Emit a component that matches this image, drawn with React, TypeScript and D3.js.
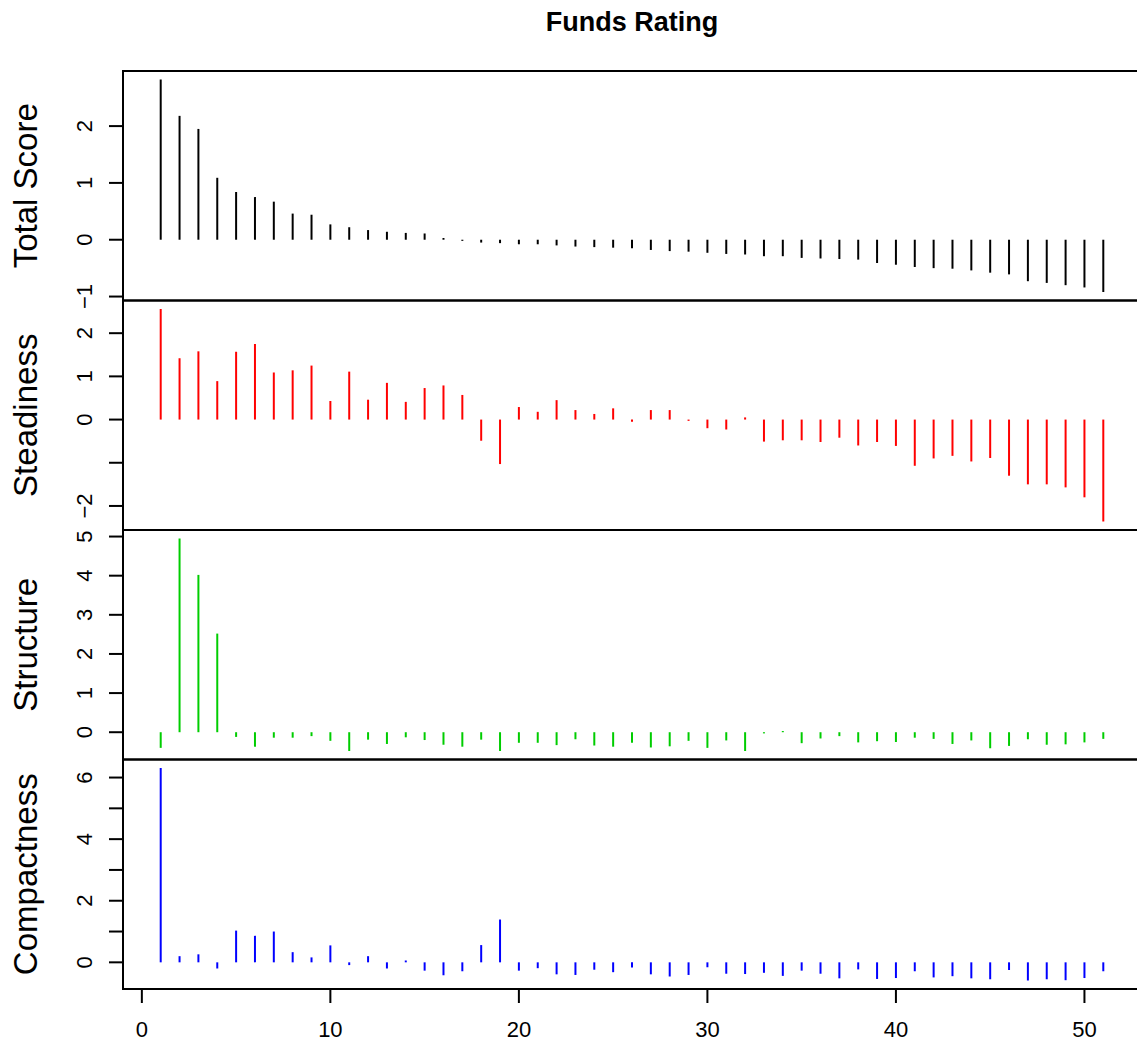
import React from "react";
import * as d3 from "d3";

const totalScore = [2.82, 2.18, 1.95, 1.09, 0.84, 0.75, 0.67, 0.46, 0.44, 0.27, 0.22, 0.17, 0.14, 0.12, 0.11, 0.03, -0.02, -0.05, -0.06, -0.08, -0.08, -0.1, -0.12, -0.13, -0.14, -0.15, -0.18, -0.2, -0.21, -0.23, -0.25, -0.26, -0.29, -0.29, -0.32, -0.33, -0.34, -0.35, -0.41, -0.44, -0.48, -0.5, -0.51, -0.54, -0.58, -0.61, -0.73, -0.76, -0.8, -0.84, -0.92];
const steadiness = [2.56, 1.42, 1.58, 0.89, 1.57, 1.75, 1.09, 1.14, 1.25, 0.43, 1.11, 0.46, 0.85, 0.41, 0.73, 0.79, 0.57, -0.49, -1.03, 0.29, 0.18, 0.45, 0.22, 0.13, 0.26, -0.05, 0.22, 0.22, -0.03, -0.2, -0.23, 0.05, -0.51, -0.48, -0.48, -0.52, -0.42, -0.6, -0.52, -0.61, -1.07, -0.9, -0.84, -0.97, -0.89, -1.3, -1.5, -1.5, -1.57, -1.8, -2.36];
const structure = [-0.4, 4.95, 4.02, 2.52, -0.12, -0.37, -0.14, -0.14, -0.1, -0.22, -0.48, -0.19, -0.3, -0.13, -0.2, -0.32, -0.37, -0.19, -0.48, -0.27, -0.27, -0.33, -0.18, -0.34, -0.37, -0.27, -0.39, -0.36, -0.22, -0.4, -0.21, -0.48, -0.03, 0.03, -0.28, -0.16, -0.1, -0.26, -0.23, -0.25, -0.14, -0.17, -0.3, -0.21, -0.41, -0.35, -0.18, -0.32, -0.31, -0.26, -0.17];
const compactness = [6.31, 0.2, 0.26, -0.2, 1.03, 0.86, 1.0, 0.33, 0.16, 0.55, -0.09, 0.2, -0.2, 0.06, -0.27, -0.42, -0.29, 0.56, 1.39, -0.27, -0.19, -0.39, -0.41, -0.24, -0.32, -0.17, -0.39, -0.46, -0.41, -0.16, -0.37, -0.38, -0.34, -0.44, -0.27, -0.37, -0.52, -0.23, -0.54, -0.51, -0.29, -0.49, -0.45, -0.52, -0.55, -0.25, -0.59, -0.55, -0.58, -0.51, -0.29];

const panelNames = ["Total Score", "Steadiness", "Structure", "Compactness"];
const panelColors = ["#000000", "#FF0000", "#00CD00", "#0000FF"];
const panelTicks = [[-1, 0, 1, 2], [-2, -1, 0, 1, 2], [0, 1, 2, 3, 4, 5], [0, 1, 2, 3, 4, 5, 6]];
const panelLabeled = [[-1, 0, 1, 2], [-2, 0, 1, 2], [0, 1, 2, 3, 4, 5], [0, 2, 4, 6]];
const xTicks = [0, 10, 20, 30, 40, 50];
const title = "Funds Rating";

const W = 1137, H = 1041;
const plotLeft = 123, plotRight = 1141, plotTop = 71, plotBottom = 989;
const font = "'Liberation Sans', Arial, Helvetica, sans-serif";
const fmt = (v: number) => (v < 0 ? "\u2212" + Math.abs(v) : String(v));

export default function App() {
  const series = [totalScore, steadiness, structure, compactness];
  const n = totalScore.length;
  const x = d3.scaleLinear().domain([1 - 0.04 * (n - 1), n + 0.04 * (n - 1)]).range([plotLeft, plotRight]);
  const ph = (plotBottom - plotTop) / 4;

  return (
    <svg width={W} height={H} style={{ position: "absolute", left: 0, top: 0, background: "#fff" }} fontFamily={font}>
      <text x={(plotLeft + plotRight) / 2} y={31} textAnchor="middle" fontWeight="bold" fontSize={27}>{title}</text>
      {series.map((vals, p) => {
        const top = plotTop + p * ph;
        const bottom = top + ph;
        const mn = d3.min(vals) as number, mx = d3.max(vals) as number;
        const r = mx - mn;
        const y = d3.scaleLinear().domain([mn - 0.04 * r, mx + 0.04 * r]).range([bottom, top]);
        return (
          <g key={p}>
            {vals.map((v, i) => (
              <line key={i} x1={x(i + 1)} x2={x(i + 1)} y1={y(0)} y2={y(v)} stroke={panelColors[p]} strokeWidth={2} />
            ))}
            <rect x={plotLeft} y={top} width={plotRight - plotLeft} height={ph} fill="none" stroke="#000" strokeWidth={2} />
            {panelTicks[p].map((t) => (
              <line key={"t" + t} x1={plotLeft - 14} x2={plotLeft} y1={y(t)} y2={y(t)} stroke="#000" strokeWidth={2} />
            ))}
            {panelLabeled[p].map((t) => (
              <text key={"l" + t} transform={`translate(92,${y(t)}) rotate(-90)`} textAnchor="middle" fontSize={22}>{fmt(t)}</text>
            ))}
            <text transform={`translate(37,${(top + bottom) / 2}) rotate(-90)`} textAnchor="middle" fontSize={33}>{panelNames[p]}</text>
          </g>
        );
      })}
      <line x1={x(xTicks[0])} x2={x(xTicks[xTicks.length - 1])} y1={plotBottom} y2={plotBottom} stroke="#000" strokeWidth={2} />
      {xTicks.map((t) => (
        <g key={t}>
          <line x1={x(t)} x2={x(t)} y1={plotBottom} y2={plotBottom + 14} stroke="#000" strokeWidth={2} />
          <text x={x(t)} y={1037} textAnchor="middle" fontSize={22}>{t}</text>
        </g>
      ))}
    </svg>
  );
}
